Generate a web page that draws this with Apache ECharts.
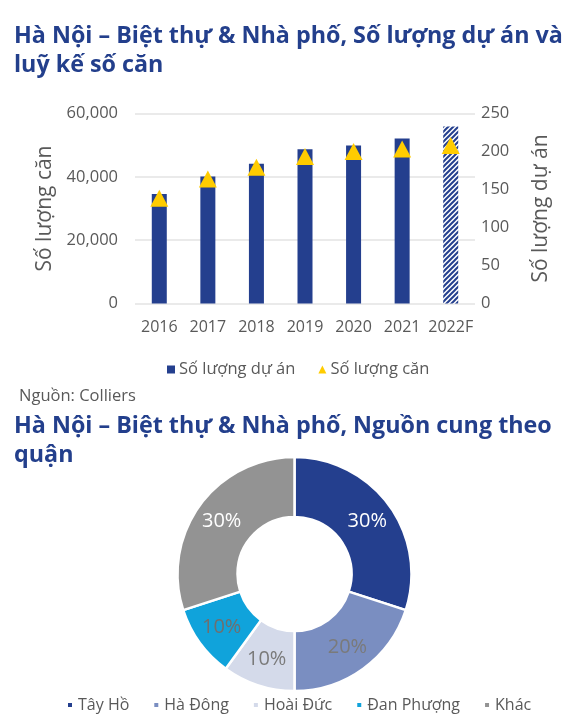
<!DOCTYPE html>
<html>
<head>
    <meta charset="utf-8">
    <title>ECharts</title>
    <script src="https://cdn.jsdelivr.net/npm/echarts@6/dist/echarts.min.js"></script>
    <style>
        html, body { margin: 0; padding: 0; background: #fff; }
    </style>
</head>
<body>
    <div id="main" style="width: 577px;height: 717px;"></div>
    <script type="text/javascript">
        // 数据
        var years = ['2016', '2017', '2018', '2019', '2020', '2021', '2022F'];
        var projectCount = [144, 167, 184, 203, 208, 217, 233];           // Số lượng dự án (trục phải)
        var unitCount = [33200, 39300, 43000, 46400, 48000, 48800, 49900]; // Số lượng căn (trục trái)
        var leftTicks = [0, 60000, 20000];   // min, max, interval
        var rightTicks = [0, 250, 50];

        var districts = ['Tây Hồ', 'Hà Đông', 'Hoài Đức', 'Đan Phượng', 'Khác'];
        var supplyShare = [30, 20, 10, 10, 30];

        var blue = '#243F8E';
        var pieColors = ['#243F8E', '#7A8EC1', '#D4DAEA', '#10A3DB', '#939393'];
        var pieLabelColors = ['#ffffff', '#7a7a7a', '#7a7a7a', '#6f6f6f', '#ffffff'];
        var grey = '#595959';
        var font = 'Open Sans';

        // 斜线填充 (2022F)
        function hatch() {
            var c = document.createElement('canvas');
            c.width = 5; c.height = 5;
            var ctx = c.getContext('2d');
            ctx.fillStyle = '#ffffff';
            ctx.fillRect(0, 0, 5, 5);
            ctx.strokeStyle = blue;
            ctx.lineWidth = 2;
            ctx.beginPath();
            ctx.moveTo(-1, 6); ctx.lineTo(6, -1);
            ctx.moveTo(-1, 1); ctx.lineTo(1, -1);
            ctx.moveTo(4, 6); ctx.lineTo(6, 4);
            ctx.stroke();
            return c;
        }

        var barData = projectCount.map(function (v, i) {
            if (years[i] === '2022F') {
                return { value: v, itemStyle: { color: { image: hatch(), repeat: 'repeat' } } };
            }
            return v;
        });

        var pieData = districts.map(function (name, i) {
            return {
                name: name,
                value: supplyShare[i],
                itemStyle: { color: pieColors[i] },
                label: { color: pieLabelColors[i] }
            };
        });

        var myChart = echarts.init(document.getElementById('main'));

        var option = {
            backgroundColor: '#fff',
            textStyle: { fontFamily: font },
            title: [
                {
                    text: 'Hà Nội – Biệt thự & Nhà phố, Số lượng dự án và\nluỹ kế số căn',
                    left: 14, top: 22, padding: 0,
                    textStyle: { fontFamily: font, fontSize: 23.3, fontWeight: 'bold', color: '#233F8C', lineHeight: 29 }
                },
                {
                    text: 'Nguồn: Colliers',
                    left: 19, top: 388, padding: 0,
                    textStyle: { fontFamily: font, fontSize: 16.5, fontWeight: 'normal', color: grey }
                },
                {
                    text: 'Hà Nội – Biệt thự & Nhà phố, Nguồn cung theo\nquận',
                    left: 14, top: 412, padding: 0,
                    textStyle: { fontFamily: font, fontSize: 23.3, fontWeight: 'bold', color: '#233F8C', lineHeight: 29 }
                }
            ],
            legend: [
                {
                    left: 167, top: 361, padding: 0,
                    itemWidth: 8, itemHeight: 8, itemGap: 23,
                    textStyle: { fontFamily: font, fontSize: 16.5, color: grey, padding: [0, 0, 0, -1] },
                    data: [
                        { name: 'Số lượng dự án', icon: 'rect' },
                        { name: 'Số lượng căn', icon: 'triangle' }
                    ]
                },
                {
                    left: 66, top: 697, padding: 0,
                    itemWidth: 6, itemHeight: 6, itemGap: 23,
                    icon: 'rect',
                    textStyle: { fontFamily: font, fontSize: 16, color: grey },
                    data: districts
                }
            ],
            grid: {
                left: 135, right: 102, top: 113.5, bottom: 413.5
            },
            xAxis: {
                type: 'category',
                data: years,
                axisLine: { show: false },
                axisTick: { show: false },
                axisLabel: { fontFamily: font, fontSize: 16, color: grey, margin: 16, interval: 0 }
            },
            yAxis: [
                {
                    type: 'value',
                    name: 'Số lượng căn',
                    nameLocation: 'middle',
                    nameRotate: 90,
                    nameGap: 71,
                    nameTextStyle: { fontFamily: font, fontSize: 21, color: grey },
                    min: leftTicks[0], max: leftTicks[1], interval: leftTicks[2],
                    axisLine: { show: false },
                    axisTick: { show: false },
                    axisLabel: {
                        fontFamily: font, fontSize: 16.5, color: grey, margin: 17,
                        formatter: function (v) { return v.toLocaleString('en-US'); }
                    },
                    splitLine: { lineStyle: { color: '#E3E3E3', width: 1.5 } }
                },
                {
                    type: 'value',
                    name: 'Số lượng dự án',
                    nameLocation: 'middle',
                    nameRotate: 90,
                    nameGap: 56,
                    nameTextStyle: { fontFamily: font, fontSize: 21, color: grey },
                    min: rightTicks[0], max: rightTicks[1], interval: rightTicks[2],
                    axisLine: { show: false },
                    axisTick: { show: false },
                    axisLabel: { fontFamily: font, fontSize: 16.5, color: grey, margin: 6 },
                    splitLine: { show: false }
                }
            ],
            series: [
                {
                    name: 'Số lượng dự án',
                    type: 'bar',
                    yAxisIndex: 1,
                    barWidth: 15,
                    itemStyle: { color: blue },
                    data: barData,
                    z: 2
                },
                {
                    name: 'Số lượng căn',
                    type: 'scatter',
                    yAxisIndex: 0,
                    symbol: 'triangle',
                    symbolSize: [18, 17],
                    itemStyle: { color: '#FFCC00', opacity: 1 },
                    data: unitCount,
                    z: 3
                },
                {
                    name: 'Nguồn cung',
                    type: 'pie',
                    center: [294.5, 574],
                    radius: [57, 117],
                    startAngle: 90,
                    clockwise: true,
                    avoidLabelOverlap: false,
                    itemStyle: { borderColor: '#fff', borderWidth: 2.5 },
                    label: {
                        show: true,
                        position: 'inside',
                        fontFamily: font,
                        fontSize: 20,
                        formatter: function (p) { return p.value + '%'; }
                    },
                    labelLine: { show: false },
                    emphasis: { disabled: true },
                    data: pieData
                }
            ]
        };

        myChart.setOption(option);
        window.onresize = myChart.resize;
    </script>
</body>
</html>
